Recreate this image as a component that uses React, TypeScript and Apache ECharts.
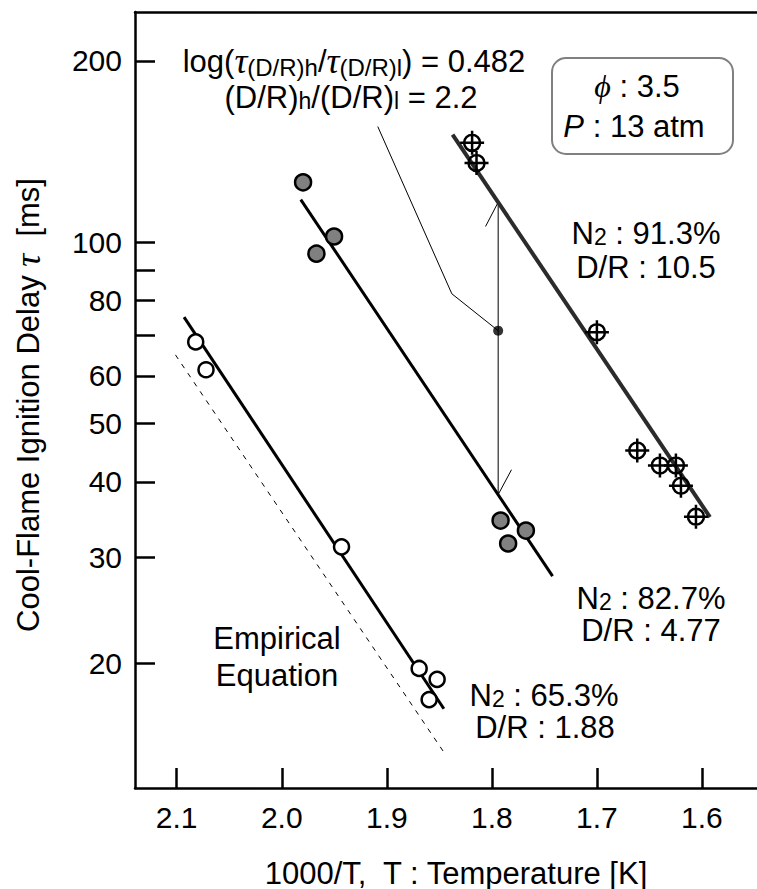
import React, { useEffect, useRef } from 'react';
import * as echarts from 'echarts';

// ---- axis ranges & ticks ----
const xRange = [1.5476, 2.1397]; // 1000/T (axis inverted)
const yRange = [12.41, 241.1]; // ms, logarithmic
const xTicks = [2.1, 2.0, 1.9, 1.8, 1.7, 1.6];
const yTicks = [20, 30, 40, 50, 60, 70, 80, 90, 100, 200];
const yLabels = [20, 30, 40, 50, 60, 80, 100, 200];

// ---- measured points [1000/T, tau(ms)] ----
// N2 65.3%, D/R 1.88 (open circles)
const openPts = [[2.0819, 68.3], [2.0721, 61.4], [1.9431, 31.2], [1.8692, 19.6], [1.8521, 18.8], [1.8597, 17.4]];
// N2 82.7%, D/R 4.77 (grey circles)
const grayPts = [[1.9797, 125.7], [1.9502, 102.2], [1.967, 95.7], [1.7917, 34.5], [1.7676, 33.2], [1.7845, 31.6]];
// N2 91.3%, D/R 10.5 (crosshair circles)
const crossPts = [[1.8188, 146.2], [1.8146, 135.4], [1.70, 70.9], [1.6616, 45.1], [1.64, 42.6], [1.6248, 42.6], [1.62, 39.4], [1.6057, 35.0]];

// ---- fitted lines ----
const fitOpen = [[2.093, 75.1], [1.8457, 16.8]];
const fitGray = [[1.9819, 117.7], [1.7422, 27.9]];
const fitCross = [[1.8374, 150.9], [1.5924, 34.96]];
const empirical = [[2.1012, 65.0], [1.8438, 14.07]];

// ---- annotation guides ----
const ratioLine = [[1.794, 116.5], [1.794, 38.1]];
const barbTop = [[1.794, 116.5], [1.806, 106.2]];
const barbBottom = [[1.794, 38.1], [1.7813, 41.9]];
const leader = [[1.9086, 155.6], [1.8381, 82.1], [1.794, 71.3]];
const midPoint = [[1.794, 71.3]];

const FONT = '"Liberation Sans", Arial, Helvetica, sans-serif';
const SERIF = '"Liberation Serif", "DejaVu Serif", serif';

const toLog = (pts: number[][]) => pts.map(([x, y]) => [x, Math.log10(y)]);

const CROSS = 'path://M-12,0L12,0M0,-12L0,12M8,0A8,8,0,1,1,-8,0A8,8,0,1,1,8,0Z';

const rich = {
  sub: { fontSize: 23, fontFamily: FONT, fill: '#000', color: '#000', verticalAlign: 'bottom' },
  sub2: { fontSize: 24, fontFamily: FONT, fill: '#000', color: '#000', verticalAlign: 'bottom' },
  tau: { fontSize: 36, fontFamily: SERIF, fontStyle: 'italic', fill: '#000', color: '#000' },
  it: { fontSize: 31, fontFamily: FONT, fontStyle: 'italic', fill: '#000', color: '#000' },
  phi: { fontSize: 32, fontFamily: SERIF, fontStyle: 'italic', fill: '#000', color: '#000' },
};

function txt(x: number, y: number, text: string, size = 31, rotation = 0) {
  return {
    type: 'text',
    x,
    y,
    rotation,
    z: 100,
    style: {
      text,
      fontSize: size,
      fontFamily: FONT,
      fill: '#000',
      align: 'center',
      verticalAlign: 'middle',
      textAlign: 'center',
      textVerticalAlign: 'middle',
      rich,
    },
  };
}

function thin(data: number[][], width = 1) {
  return {
    type: 'line',
    data: toLog(data),
    symbol: 'none',
    lineStyle: { color: '#000', width },
    z: 2,
    silent: true,
  };
}

export default function App() {
  const ref = useRef<HTMLDivElement>(null);
  useEffect(() => {
    document.body.style.margin = '0';
    const chart = echarts.init(ref.current!, null, { renderer: 'svg' });
    const axisLine = { show: true, onZero: false, lineStyle: { color: '#000', width: 2.5 } };
    const labelStyle = { fontSize: 30, fontFamily: FONT, color: '#000' };
    const option = {
      animation: false,
      grid: { left: 135, right: 0, top: 12, bottom: 101, containLabel: false },
      xAxis: [
        {
          type: 'value',
          inverse: true,
          min: xRange[0],
          max: xRange[1],
          axisLine,
          axisTick: { show: true, inside: true, length: 20, lineStyle: { color: '#000', width: 2.5 }, customValues: xTicks },
          axisLabel: { show: true, customValues: xTicks, formatter: (v: number) => v.toFixed(1), margin: 14, ...labelStyle },
          splitLine: { show: false },
        },
        {
          type: 'value',
          position: 'top',
          inverse: true,
          min: xRange[0],
          max: xRange[1],
          axisLine,
          axisTick: { show: false },
          axisLabel: { show: false },
          splitLine: { show: false },
        },
      ],
      yAxis: {
        type: 'value',
        min: Math.log10(yRange[0]),
        max: Math.log10(yRange[1]),
        axisLine,
        axisTick: { show: true, inside: true, length: 20, lineStyle: { color: '#000', width: 2.5 }, customValues: yTicks.map(Math.log10) },
        axisLabel: {
          show: true,
          customValues: yLabels.map(Math.log10),
          formatter: (v: number) => String(Math.round(Math.pow(10, v))),
          margin: 13,
          ...labelStyle,
        },
        splitLine: { show: false },
      },
      series: [
        { type: 'line', data: toLog(fitOpen), symbol: 'none', lineStyle: { color: '#000', width: 3 }, z: 3 },
        { type: 'line', data: toLog(fitGray), symbol: 'none', lineStyle: { color: '#000', width: 3 }, z: 3 },
        { type: 'line', data: toLog(fitCross), symbol: 'none', lineStyle: { color: '#2b2b2b', width: 4 }, z: 3 },
        { type: 'line', data: toLog(empirical), symbol: 'none', lineStyle: { color: '#000', width: 1, type: [5, 6] }, z: 2 },
        thin(ratioLine),
        thin(barbTop),
        thin(barbBottom),
        thin(leader),
        {
          type: 'scatter',
          data: toLog(midPoint),
          symbol: 'circle',
          symbolSize: 10,
          itemStyle: { color: '#000' },
          z: 5,
        },
        {
          type: 'scatter',
          data: toLog(openPts),
          symbol: 'circle',
          symbolSize: 15,
          itemStyle: { color: '#fff', borderColor: '#000', borderWidth: 2.5, opacity: 1 },
          z: 6,
        },
        {
          type: 'scatter',
          data: toLog(grayPts),
          symbol: 'circle',
          symbolSize: 16,
          itemStyle: { color: '#808080', borderColor: '#000', borderWidth: 2.5, opacity: 1 },
          z: 6,
        },
        {
          type: 'scatter',
          data: toLog(crossPts),
          symbol: CROSS,
          symbolSize: 24,
          itemStyle: { color: 'rgba(0,0,0,0)', borderColor: '#000', borderWidth: 2.5, opacity: 1 },
          z: 6,
        },
      ],
      graphic: [
        {
          type: 'rect',
          z: 90,
          shape: { x: 552, y: 58, width: 181, height: 96, r: 14 },
          style: { fill: '#fff', stroke: '#808080', lineWidth: 2 },
        },
        txt(637, 86, '{phi|ϕ} : 3.5'),
        txt(634, 126, '{it|P} : 13 atm'),
        txt(354, 61, 'log({tau|τ}{sub2|(D/R)h}/{tau|τ}{sub2|(D/R)l}) = 0.482'),
        txt(351, 97, '(D/R){sub|h}/(D/R){sub|l} = 2.2'),
        txt(646, 233, 'N{sub|2} : 91.3%'),
        txt(646, 267, 'D/R : 10.5'),
        txt(651, 598, 'N{sub|2} : 82.7%'),
        txt(651, 630, 'D/R : 4.77'),
        txt(544, 695, 'N{sub|2} : 65.3%'),
        txt(545, 727, 'D/R : 1.88'),
        txt(277, 638, 'Empirical'),
        txt(277, 675, 'Equation'),
        txt(456, 873, '1000/T,  T : Temperature [K]', 31),
        txt(28, 405, 'Cool-Flame Ignition Delay {tau|τ}  [ms]', 31, Math.PI / 2),
      ],
    };
    chart.setOption(option as any);
    return () => chart.dispose();
  }, []);
  return <div ref={ref} style={{ width: 757, height: 889 }} />;
}
